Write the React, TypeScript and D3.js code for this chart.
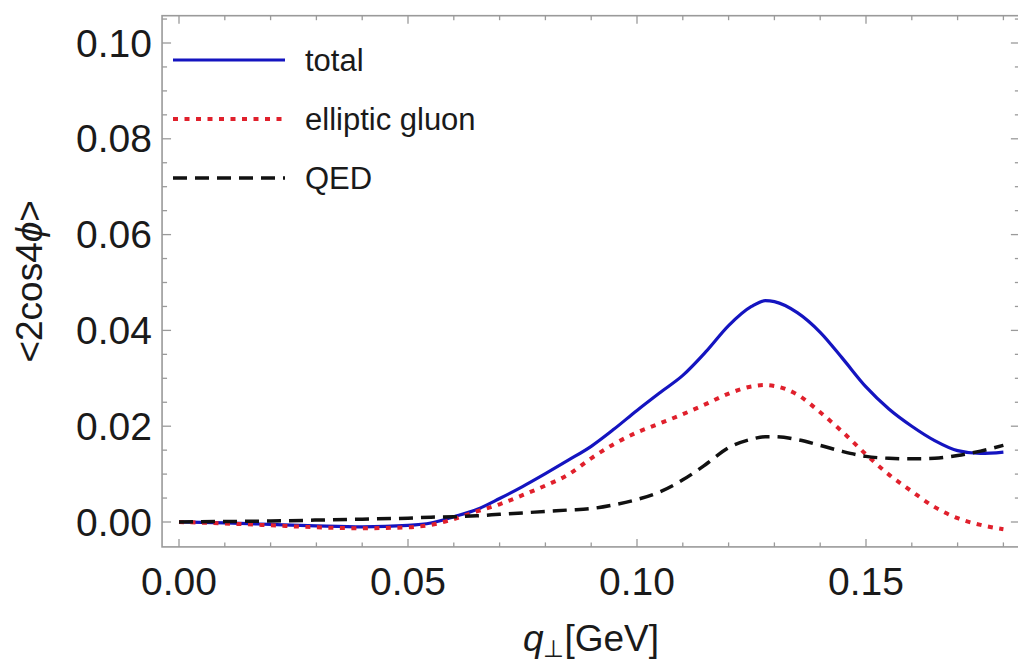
import React from 'react';
import * as d3 from 'd3';

// q_perp sample points [GeV]
const qValues = [
  0, 0.01, 0.02, 0.03, 0.04, 0.05, 0.055, 0.06, 0.065, 0.07, 0.075, 0.08, 0.085,
  0.09, 0.095, 0.1, 0.105, 0.11, 0.115, 0.12, 0.125, 0.128, 0.13, 0.135, 0.14,
  0.145, 0.15, 0.155, 0.16, 0.165, 0.17, 0.175, 0.18,
];

const totalValues = [
  0, -0.0002, -0.0005, -0.0008, -0.001, -0.0007, -0.0002, 0.0011, 0.0026, 0.0049,
  0.0074, 0.0101, 0.0129, 0.0158, 0.0194, 0.0233, 0.027, 0.0306, 0.0355, 0.041,
  0.045, 0.0462, 0.046, 0.0437, 0.0396, 0.034, 0.0282, 0.0236, 0.02, 0.017, 0.0149,
  0.0143, 0.0146,
];

const ellipticValues = [
  0, -0.0003, -0.0007, -0.0011, -0.0013, -0.0011, -0.0006, 0.0006, 0.0022, 0.0037,
  0.0056, 0.0076, 0.0099, 0.0133, 0.0163, 0.0187, 0.0206, 0.0225, 0.0246, 0.0268,
  0.0283, 0.0286, 0.0284, 0.0266, 0.0229, 0.0187, 0.0141, 0.0099, 0.0064, 0.0031,
  0.0008, -0.0006, -0.0015,
];

const qedValues = [
  0, 0.0001, 0.0002, 0.0004, 0.0006, 0.0008, 0.001, 0.0011, 0.0013, 0.0016, 0.0019,
  0.0022, 0.0025, 0.0028, 0.0036, 0.0047, 0.0063, 0.0088, 0.012, 0.0155, 0.0173,
  0.0178, 0.0178, 0.0172, 0.016, 0.0147, 0.0137, 0.0133, 0.0132, 0.0133, 0.0139,
  0.0148, 0.016,
];

const xTickValues = [0, 0.05, 0.1, 0.15];
const yTickValues = [0, 0.02, 0.04, 0.06, 0.08, 0.1];

const seriesNames = ['total', 'elliptic gluon', 'QED'];

const width = 1018;
const height = 667;
const font = '"Liberation Sans", Arial, sans-serif';

const App = () => {
  // scales (calibrated on the tick positions)
  const xScale = d3.scaleLinear().domain([0, 0.15]).range([179, 866]);
  const yScale = d3.scaleLinear().domain([0, 0.1]).range([522, 43]);

  const left = xScale(-0.0037);
  const right = xScale(0.1836);
  const top = yScale(0.1057);
  const bottom = yScale(-0.0052);

  const series = [
    { name: seriesNames[0], values: totalValues, color: '#1414c0', dash: null, w: 3.2 },
    { name: seriesNames[1], values: ellipticValues, color: '#e0202c', dash: '5,6.5', w: 4 },
    { name: seriesNames[2], values: qedValues, color: '#111111', dash: '14,8', w: 3.5 },
  ];

  const line = d3
    .line<number>()
    .x((d, i) => xScale(qValues[i]))
    .y(d => yScale(d))
    .curve(d3.curveMonotoneX);

  const xMinor = d3.range(0, 0.1836, 0.01);
  const yMinor = d3.range(0, 0.1057, 0.005);

  const frameColor = '#9a9a9a';

  return (
    <div style={{ position: 'absolute', left: 0, top: 0 }}>
      <svg width={width} height={height} style={{ display: 'block', background: '#fff' }}>
        <defs>
          <clipPath id="plot-clip">
            <rect x={left} y={top} width={right - left} height={bottom - top} />
          </clipPath>
        </defs>

        {/* ticks x */}
        {xMinor.map((v, i) => {
          const major = xTickValues.some(t => Math.abs(t - v) < 1e-6);
          const len = major ? 8 : 4.5;
          return (
            <g key={'xm' + i} stroke={frameColor} strokeWidth={1.3}>
              <line x1={xScale(v)} x2={xScale(v)} y1={bottom} y2={bottom - len} />
              <line x1={xScale(v)} x2={xScale(v)} y1={top} y2={top + len} />
            </g>
          );
        })}

        {/* ticks y */}
        {yMinor.map((v, i) => {
          const major = yTickValues.some(t => Math.abs(t - v) < 1e-6);
          const len = major ? 9 : 5;
          return (
            <g key={'ym' + i} stroke={frameColor} strokeWidth={1.3}>
              <line x1={left} x2={left + len} y1={yScale(v)} y2={yScale(v)} />
              <line x1={right} x2={right - len} y1={yScale(v)} y2={yScale(v)} />
            </g>
          );
        })}

        {/* frame */}
        <rect
          x={left}
          y={top}
          width={right - left}
          height={bottom - top}
          fill="none"
          stroke={frameColor}
          strokeWidth={1.6}
        />

        {/* curves */}
        <g clipPath="url(#plot-clip)">
          {series.map(s => (
            <path
              key={s.name}
              d={line(s.values) || ''}
              fill="none"
              stroke={s.color}
              strokeWidth={s.w}
              strokeDasharray={s.dash || undefined}
            />
          ))}
        </g>

        {/* tick labels */}
        {xTickValues.map(v => (
          <text
            key={'xt' + v}
            x={xScale(v)}
            y={595}
            textAnchor="middle"
            fontFamily={font}
            fontSize={39}
            fill="#1a1a1a"
          >
            {d3.format('.2f')(v)}
          </text>
        ))}
        {yTickValues.map(v => (
          <text
            key={'yt' + v}
            x={152}
            y={yScale(v)}
            dy="0.35em"
            textAnchor="end"
            fontFamily={font}
            fontSize={39}
            fill="#1a1a1a"
          >
            {d3.format('.2f')(v)}
          </text>
        ))}

        {/* axis titles */}
        <text
          x={(left + right) / 2}
          y={651}
          textAnchor="middle"
          fontFamily={font}
          fontSize={37}
          fill="#1a1a1a"
        >
          <tspan fontStyle="italic">q</tspan>
          <tspan fontSize={24} dy={6}>⊥</tspan>
          <tspan dy={-6}>[GeV]</tspan>
        </text>
        <text
          transform={`translate(42,${(top + bottom) / 2}) rotate(-90)`}
          textAnchor="middle"
          fontFamily={font}
          fontSize={37}
          fill="#1a1a1a"
        >
          {'<2cos4'}
          <tspan fontStyle="italic">ϕ</tspan>
          {'>'}
        </text>

        {/* legend */}
        {series.map((s, i) => {
          const ly = 60 + i * 59;
          return (
            <g key={'lg' + s.name}>
              <line
                x1={173}
                x2={285}
                y1={ly}
                y2={ly}
                stroke={s.color}
                strokeWidth={s.w}
                strokeDasharray={s.dash || undefined}
              />
              <text x={305} y={ly} dy="0.35em" fontFamily={font} fontSize={31} fill="#1a1a1a">
                {s.name}
              </text>
            </g>
          );
        })}
      </svg>
    </div>
  );
};

export default App;
